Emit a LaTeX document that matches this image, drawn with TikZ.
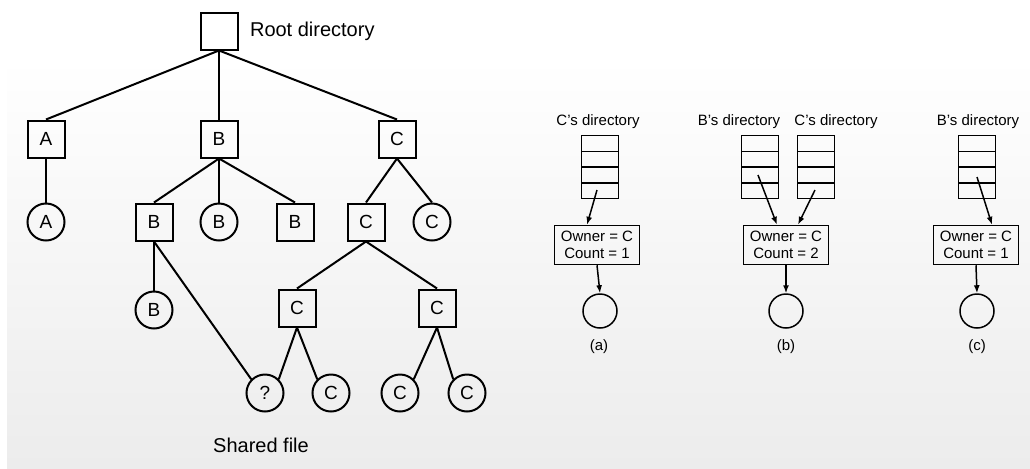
\documentclass[tikz,border=0pt]{standalone}
\usepackage{fontspec}
\setmainfont{Liberation Sans}
\usetikzlibrary{arrows.meta,positioning,calc}
\definecolor{panelgray}{RGB}{236,236,236}

\tikzset{
  dirnode/.style={draw, rectangle, line width=1pt, minimum size=18.5pt, inner sep=0pt, font=\fontsize{9.5}{11}\selectfont},
  filenode/.style={draw, circle, line width=1pt, minimum size=18.5pt, inner sep=0pt, font=\fontsize{9.5}{11}\selectfont},
  treeedge/.style={line width=1pt},
  dirstack/.style={draw, line width=0.75pt, minimum width=18.5pt, minimum height=31.5pt, inner sep=0pt,
    path picture={
      \foreach \k in {1,2,3}
        \draw[line width=0.75pt] ($(path picture bounding box.north west)!\k/4!(path picture bounding box.south west)$)
          -- ($(path picture bounding box.north east)!\k/4!(path picture bounding box.south east)$);
    }},
  inode/.style={draw, line width=0.75pt, minimum width=42.5pt, minimum height=19.5pt, inner sep=1pt, align=center, font=\fontsize{7.5}{8.5}\selectfont},
  blankfile/.style={draw, circle, line width=0.75pt, minimum size=17pt, inner sep=0pt},
  ptr/.style={line width=0.75pt, -{Latex[length=4pt,width=3pt]}},
  captext/.style={font=\fontsize{7.5}{9}\selectfont}
}

\begin{document}
\begin{tikzpicture}[x=0.5pt, y=-0.5pt]
  \useasboundingbox (0,0) rectangle (1030,468);
  \fill[top color=white, bottom color=panelgray] (7,58) rectangle (1030,468);

  % directory tree
  \node[dirnode] (root) at (219,31) {};
  \node[anchor=west, font=\fontsize{10}{12}\selectfont] (rootlbl) at (243,31) {Root directory};
  \node[dirnode] (da) at (46,139) {A};
  \node[dirnode] (db) at (219,139) {B};
  \node[dirnode] (dc) at (397,139) {C};
  \node[filenode] (fa) at (46,222) {A};
  \node[dirnode] (dbb) at (154,222) {B};
  \node[filenode] (fb) at (219,222) {B};
  \node[dirnode] (dbb2) at (295,222) {B};
  \node[dirnode] (dcc) at (366,222) {C};
  \node[filenode] (fc) at (432,222) {C};
  \node[filenode] (fbb) at (154,310) {B};
  \node[dirnode] (dccl) at (297,308) {C};
  \node[dirnode] (dccr) at (437,308) {C};
  \node[filenode] (shared) at (265,393) {?};
  \node[filenode] (fcl) at (331,393) {C};
  \node[filenode] (fcrl) at (400,393) {C};
  \node[filenode] (fcrr) at (467,393) {C};
  \node[font=\fontsize{10}{12}\selectfont] (sharedlbl) at (261,445) {Shared file};

  \draw[treeedge] (root.south) -- (da.north);
  \draw[treeedge] (root.south) -- (db.north);
  \draw[treeedge] (root.south) -- (dc.north);
  \draw[treeedge] (da) -- (fa);
  \draw[treeedge] (db.south) -- (dbb.north);
  \draw[treeedge] (db) -- (fb);
  \draw[treeedge] (db.south) -- (dbb2.north);
  \draw[treeedge] (dc.south) -- (dcc.north);
  \draw[treeedge] (dc.south) -- (fc.north);
  \draw[treeedge] (dbb) -- (fbb);
  \draw[treeedge] (dbb.south) -- (shared.north west);
  \draw[treeedge] (dcc.south) -- (dccl.north);
  \draw[treeedge] (dcc.south) -- (dccr.north);
  \draw[treeedge] (dccl.south) -- (shared.north east);
  \draw[treeedge] (dccl.south) -- (fcl.north west);
  \draw[treeedge] (dccr.south) -- (fcrl.north east);
  \draw[treeedge] (dccr.south) -- (fcrr.north west);

  % (a)
  \node[captext] (cdira) at (598,122) {C's directory};
  \node[dirstack] (stka) at (600,167) {};
  \node[inode] (inoa) at (597,245) {Owner = C\\Count = 1};
  \node[blankfile] (filea) at (600,311) {};
  \node[captext] (capa) at (599,347) {(a)};
  \coordinate (pa) at (597,190);
  \draw[ptr] (pa) -- ($(inoa.north)+(-10,0)$);
  \draw[ptr] (inoa.south) -- (filea.north);

  % (b)
  \node[captext] (bdirb) at (739,122) {B's directory};
  \node[captext] (cdirb) at (836,122) {C's directory};
  \node[dirstack] (stkbb) at (760,167) {};
  \node[dirstack] (stkbc) at (816,167) {};
  \node[inode] (inob) at (786,245) {Owner = C\\Count = 2};
  \node[blankfile] (fileb) at (786,311) {};
  \node[captext] (capb) at (786,347) {(b)};
  \coordinate (pbb) at (758,175);
  \coordinate (pbc) at (815,190);
  \draw[ptr] (pbb) -- ($(inob.north)+(-9,0)$);
  \draw[ptr] (pbc) -- ($(inob.north)+(12,0)$);
  \draw[ptr] (inob.south) -- (fileb.north);

  % (c)
  \node[captext] (bdirc) at (978,122) {B's directory};
  \node[dirstack] (stkc) at (977,167) {};
  \node[inode] (inoc) at (976,245) {Owner = C\\Count = 1};
  \node[blankfile] (filec) at (977,311) {};
  \node[captext] (capc) at (977,347) {(c)};
  \coordinate (pc) at (977,177);
  \draw[ptr] (pc) -- ($(inoc.north)+(16,0)$);
  \draw[ptr] (inoc.south) -- (filec.north);
\end{tikzpicture}
\end{document}
